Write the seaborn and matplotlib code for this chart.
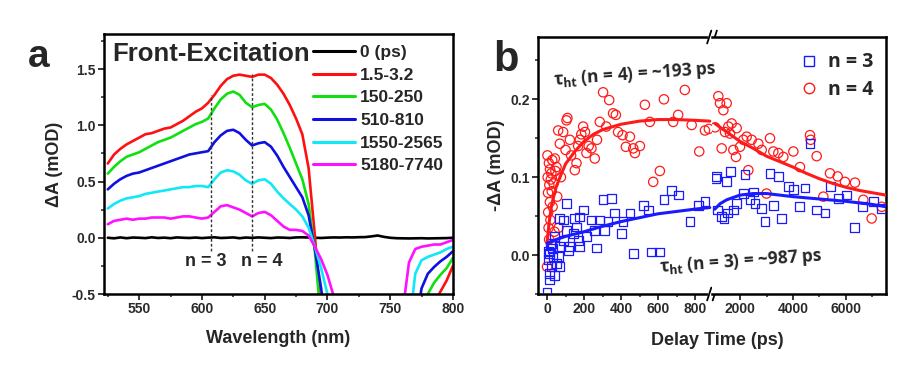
"""
Transient absorption spectra (a) and hole-transfer kinetics (b)
"""

import matplotlib
matplotlib.use("Agg")
import matplotlib.pyplot as plt
import seaborn as sns
import numpy as np
import pandas as pd
from matplotlib.lines import Line2D
from matplotlib.ticker import MultipleLocator

# ---------------- panel a: spectra ----------------
wavelength = list(range(525, 801, 5))  # 525 ... 800 nm

delay_labels = ['0 (ps)', '1.5-3.2', '150-250', '510-810', '1550-2565', '5180-7740']
delay_colors = ['#000000', '#ff1010', '#10e010', '#1010e0', '#10e8f8', '#ff10ff']

spec_0 = [0.0, -0.005, 0.003, -0.004, 0.002, 0.0, -0.003, 0.004, -0.002, 0.001,
          -0.004, 0.003, 0.0, -0.002, 0.002, -0.003, 0.001, 0.004, -0.002, 0.0,
          0.003, -0.004, 0.002, -0.001, 0.003, 0.0, -0.003, 0.002, 0.001, -0.002,
          0.003, 0.004, 0.002, 0.0, -0.002, 0.001, 0.003, 0.002, 0.004, 0.003,
          0.005, 0.006, 0.012, 0.02, 0.008, 0.0, -0.004, -0.005, -0.006, -0.005,
          -0.004, -0.006, -0.005, -0.004, -0.003, 0.0]
spec_1 = [0.66, 0.74, 0.79, 0.83, 0.86, 0.89, 0.92, 0.93, 0.95, 0.97,
          0.98, 1.01, 1.04, 1.08, 1.12, 1.15, 1.20, 1.27, 1.35, 1.41,
          1.44, 1.45, 1.44, 1.43, 1.45, 1.45, 1.42, 1.36, 1.28, 1.18,
          1.06, 0.92, 0.62, 0.02, -0.70, -1.2, -1.5, -1.5, -1.5, -1.5,
          -1.5, -1.5, -1.5, -1.5, -1.5, -1.5, -1.5, -1.5, -1.5, -1.5,
          -1.5, -0.80, -0.58, -0.48, -0.38, -0.25]
spec_2 = [0.57, 0.63, 0.68, 0.72, 0.74, 0.76, 0.79, 0.82, 0.85, 0.87,
          0.89, 0.92, 0.95, 0.98, 1.01, 1.03, 1.06, 1.15, 1.23, 1.28,
          1.30, 1.27, 1.20, 1.16, 1.18, 1.19, 1.14, 1.05, 0.93, 0.80,
          0.66, 0.52, 0.30, -0.12, -0.75, -1.2, -1.5, -1.5, -1.5, -1.5,
          -1.5, -1.5, -1.5, -1.5, -1.5, -1.5, -1.5, -1.5, -1.5, -1.5,
          -0.80, -0.50, -0.40, -0.33, -0.27, -0.18]
spec_3 = [0.43, 0.48, 0.52, 0.55, 0.57, 0.58, 0.60, 0.62, 0.64, 0.66,
          0.68, 0.70, 0.72, 0.74, 0.75, 0.76, 0.77, 0.85, 0.91, 0.95,
          0.96, 0.93, 0.87, 0.82, 0.84, 0.85, 0.81, 0.73, 0.63, 0.54,
          0.45, 0.36, 0.20, -0.10, -0.45, -0.9, -1.5, -1.5, -1.5, -1.5,
          -1.5, -1.5, -1.5, -1.5, -1.5, -1.5, -1.5, -1.5, -1.5, -0.80,
          -0.45, -0.32, -0.26, -0.21, -0.17, -0.12]
spec_4 = [0.26, 0.30, 0.33, 0.35, 0.36, 0.37, 0.39, 0.40, 0.41, 0.42,
          0.43, 0.44, 0.45, 0.45, 0.46, 0.46, 0.45, 0.52, 0.58, 0.60,
          0.59, 0.56, 0.51, 0.48, 0.51, 0.52, 0.48, 0.41, 0.35, 0.30,
          0.25, 0.19, 0.09, -0.08, -0.27, -0.50, -0.9, -1.5, -1.5, -1.5,
          -1.5, -1.5, -1.5, -1.5, -1.5, -1.5, -1.5, -1.5, -0.80, -0.32,
          -0.20, -0.17, -0.15, -0.13, -0.10, -0.08]
spec_5 = [0.12, 0.15, 0.16, 0.17, 0.16, 0.17, 0.17, 0.18, 0.18, 0.18,
          0.17, 0.18, 0.19, 0.19, 0.18, 0.17, 0.18, 0.23, 0.28, 0.29,
          0.27, 0.25, 0.22, 0.19, 0.22, 0.23, 0.20, 0.15, 0.10, 0.07,
          0.07, 0.06, 0.02, -0.08, -0.19, -0.33, -0.52, -0.9, -1.5, -1.5,
          -1.5, -1.5, -1.5, -1.5, -1.5, -1.5, -1.5, -0.65, -0.22, -0.10,
          -0.08, -0.07, -0.06, -0.06, -0.04, -0.02]
spectra = [spec_0, spec_1, spec_2, spec_3, spec_4, spec_5]

# exciton band markers (n = 3, n = 4)
band_wl = [607, 640]
band_top = [1.27, 1.46]
band_labels = ['n = 3', 'n = 4']
band_label_wl = [603, 648]

# ---------------- panel b: kinetics ----------------
n4_early_t = [0, 2, 3, 5, 6, 8, 10, 11, 12, 15,
              16, 18, 20, 23, 25, 28, 30, 35, 40, 42,
              45, 51, 55, 60, 62, 69, 75, 87, 100, 105,
              110, 123, 130, 150, 159, 168, 177, 185, 195, 205,
              213, 225, 240, 258, 270, 285, 303, 320, 336, 357,
              372, 384, 408, 426, 448, 466, 475, 502, 529, 556,
              574, 610, 632, 682, 709, 745, 782, 823, 854, 875]
n4_early_y = [-0.015, 0.128, 0.10, 0.08, 0.055, 0.035, 0.118, 0.02, 0.09, 0.068,
              0.11, 0.045, 0.097, 0.105, 0.082, 0.122, 0.062, 0.092, 0.03, 0.124,
              0.108, 0.113, 0.075, 0.16, 0.035, 0.143, 0.10, 0.158, 0.135, 0.173,
              0.176, 0.148, 0.128, 0.109, 0.118, 0.14, 0.148, 0.155, 0.165, 0.158,
              0.131, 0.14, 0.137, 0.124, 0.148, 0.171, 0.209, 0.165, 0.199, 0.182,
              0.18, 0.158, 0.154, 0.139, 0.152, 0.137, 0.131, 0.14, 0.193, 0.171,
              0.094, 0.108, 0.20, 0.171, 0.18, 0.212, 0.167, 0.133, 0.16, 0.162]
n4_late_t = [1060, 1182, 1245, 1308, 1371, 1434, 1497, 1560, 1623, 1686,
             1748, 1849, 1874, 2000, 2126, 2252, 2314, 2440, 2692, 2818,
             3000, 3132, 3258, 3447, 3635, 4013, 4264, 4641, 4667, 4893,
             5145, 5396, 5686, 5962, 6340, 6654, 6969, 7346]
n4_late_y = [0.164, 0.204, 0.195, 0.137, 0.186, 0.158, 0.195, 0.165, 0.156, 0.169,
             0.135, 0.126, 0.163, 0.139, 0.148, 0.152, 0.109, 0.148, 0.143, 0.135,
             0.079, 0.15, 0.133, 0.131, 0.126, 0.133, 0.113, 0.154, 0.148, 0.127,
             0.075, 0.105, 0.101, 0.094, 0.093, 0.071, 0.047, 0.062]

n3_early_t = [0, 5, 8, 11, 14, 14, 18, 23, 23, 28,
              32, 42, 42, 51, 60, 69, 69, 69, 87, 87,
              105, 105, 114, 123, 141, 150, 159, 168, 177, 177,
              195, 213, 240, 258, 267, 285, 303, 312, 330, 348,
              366, 403, 411, 448, 466, 520, 547, 565, 610, 632,
              673, 709, 773, 818, 854]
n3_early_y = [-0.048, -0.006, 0.005, -0.032, -0.024, 0.002, 0.012, -0.015, 0.015, 0.008,
              -0.002, -0.026, 0.024, -0.011, -0.002, -0.015, 0.011, 0.047, 0.019, 0.045,
              0.032, 0.066, 0.006, 0.011, 0.028, 0.047, 0.036, 0.019, 0.011, 0.049,
              0.058, 0.024, 0.045, 0.032, 0.009, 0.045, 0.071, 0.032, 0.043, 0.073,
              0.054, 0.028, 0.043, 0.054, 0.002, 0.064, 0.058, 0.004, 0.004, 0.071,
              0.083, 0.077, 0.043, 0.064, 0.069]
n3_late_t = [1080, 1119, 1150, 1308, 1396, 1497, 1520, 1648, 1748, 1874,
             2126, 2189, 2377, 2503, 2566, 2818, 2943, 3132, 3258, 3447,
             3572, 3824, 4013, 4239, 4453, 4641, 4893, 5208, 5421, 5711,
             6025, 6315, 6629, 7031, 7346]
n3_late_y = [0.098, 0.101, 0.058, 0.05, 0.047, 0.094, 0.054, 0.107, 0.058, 0.066,
             0.079, 0.103, 0.071, 0.081, 0.066, 0.06, 0.043, 0.105, 0.064, 0.101,
             0.047, 0.088, 0.084, 0.062, 0.086, 0.143, 0.058, 0.054, 0.088, 0.073,
             0.077, 0.035, 0.062, 0.069, 0.06]

# fitted curves
fit4_early_t = [0, 10, 25, 50, 75, 100, 150, 200, 250, 300, 400, 500, 600, 700, 800, 880]
fit4_early_y = [0.015, 0.04, 0.065, 0.088, 0.103, 0.117, 0.133, 0.146, 0.155, 0.161,
                0.168, 0.172, 0.174, 0.174, 0.173, 0.172]
fit4_late_t = [1050, 1500, 2000, 2500, 3000, 3500, 4000, 4500, 5000, 5500, 6000, 6500, 7000, 7510]
fit4_late_y = [0.169, 0.158, 0.146, 0.137, 0.127, 0.120, 0.113, 0.105, 0.098, 0.092,
               0.087, 0.083, 0.080, 0.077]
fit3_early_t = [0, 50, 100, 200, 300, 400, 500, 600, 700, 800, 880]
fit3_early_y = [0.015, 0.02, 0.024, 0.03, 0.037, 0.043, 0.048, 0.053, 0.056, 0.059, 0.061]
fit3_late_t = [1050, 1250, 1500, 2000, 2500, 3000, 3500, 4000, 5000, 6000, 7000, 7510]
fit3_late_y = [0.059, 0.066, 0.071, 0.077, 0.079, 0.079, 0.077, 0.075, 0.072, 0.069,
               0.065, 0.062]

RED = '#ff1a1a'
BLUE = '#1a1aff'

# ---------------- style ----------------
sns.set_style('ticks')
plt.rcParams['font.family'] = ['Liberation Sans', 'DejaVu Sans']
plt.rcParams['font.weight'] = 'bold'
plt.rcParams['axes.labelweight'] = 'bold'
plt.rcParams['mathtext.default'] = 'regular'
plt.rcParams['axes.linewidth'] = 1.8
plt.rcParams['axes.edgecolor'] = 'black'

fig = plt.figure(figsize=(9.23, 3.65), dpi=100)
ax_a = fig.add_axes([0.1127, 0.1945, 0.378, 0.712])
ax_b1 = fig.add_axes([0.5829, 0.1945, 0.1885, 0.7041])
ax_b2 = fig.add_axes([0.7714, 0.1945, 0.1885, 0.7041])


def style_ticks(ax):
    ax.tick_params(which='major', direction='out', length=4, width=1.3,
                   labelsize=10, labelcolor='#2a2a2a', pad=2)
    ax.tick_params(which='minor', direction='out', length=2.5, width=1.1)


# ---------------- panel a ----------------
df = pd.DataFrame({
    'wl': wavelength * len(spectra),
    'dA': sum(spectra, []),
    'delay': [lab for lab in delay_labels for _ in wavelength],
})
sns.lineplot(data=df, x='wl', y='dA', hue='delay', hue_order=delay_labels,
             palette=delay_colors, linewidth=1.9, ax=ax_a, legend=False)

for w, top in zip(band_wl, band_top):
    ax_a.vlines(w, -0.12, top, colors='#333333', linestyles=(0, (2, 1.5)), linewidth=1.0)
for w, lab in zip(band_label_wl, band_labels):
    ax_a.text(w, -0.215, lab, ha='center', va='center', fontsize=13, fontweight='bold')

ax_a.set_xlim(522, 800)
ax_a.set_ylim(-0.5, 1.81)
ax_a.xaxis.set_major_locator(MultipleLocator(50))
ax_a.xaxis.set_minor_locator(MultipleLocator(25))
ax_a.yaxis.set_major_locator(MultipleLocator(0.5))
ax_a.yaxis.set_minor_locator(MultipleLocator(0.25))
ax_a.set_yticks([-0.5, 0.0, 0.5, 1.0, 1.5])
ax_a.set_yticklabels(['-0.5', '0.0', '0.5', '1.0', '1.5'])
style_ticks(ax_a)
ax_a.set_xlabel('Wavelength (nm)', fontsize=13, labelpad=10)
ax_a.set_ylabel('ΔA (mOD)', fontsize=13, labelpad=6)

ax_a.text(0.025, 0.922, 'Front-Excitation', transform=ax_a.transAxes,
          fontsize=18.5, fontweight='bold', va='center', ha='left')
handles = [Line2D([], [], color=c, lw=2.2) for c in delay_colors]
ax_a.legend(handles, delay_labels, loc='upper left', bbox_to_anchor=(0.6, 0.958),
            frameon=False, handlelength=2.4, handletextpad=0.3,
            labelspacing=0.43, borderpad=0, borderaxespad=0,
            prop={'weight': 'bold', 'size': 12.5})

# ---------------- panel b ----------------
sns.scatterplot(x=n4_early_t, y=n4_early_y, marker='o', s=45, facecolor='none',
                edgecolor=RED, linewidth=0.9, ax=ax_b1, zorder=3)
sns.scatterplot(x=n3_early_t, y=n3_early_y, marker='s', s=40, facecolor='none',
                edgecolor=BLUE, linewidth=0.9, ax=ax_b1, zorder=3)
sns.scatterplot(x=n4_late_t, y=n4_late_y, marker='o', s=45, facecolor='none',
                edgecolor=RED, linewidth=0.9, ax=ax_b2, zorder=3)
sns.scatterplot(x=n3_late_t, y=n3_late_y, marker='s', s=40, facecolor='none',
                edgecolor=BLUE, linewidth=0.9, ax=ax_b2, zorder=3)
sns.lineplot(x=fit4_early_t, y=fit4_early_y, color=RED, lw=2.2, ax=ax_b1, zorder=4)
sns.lineplot(x=fit3_early_t, y=fit3_early_y, color=BLUE, lw=2.2, ax=ax_b1, zorder=4)
sns.lineplot(x=fit4_late_t, y=fit4_late_y, color=RED, lw=2.2, ax=ax_b2, zorder=4)
sns.lineplot(x=fit3_late_t, y=fit3_late_y, color=BLUE, lw=2.2, ax=ax_b2, zorder=4)

ax_b1.set_xlim(-49, 892)
ax_b2.set_xlim(943, 7510)
for ax in (ax_b1, ax_b2):
    ax.set_ylim(-0.05, 0.28)
    style_ticks(ax)
ax_b1.xaxis.set_major_locator(MultipleLocator(200))
ax_b1.xaxis.set_minor_locator(MultipleLocator(100))
ax_b1.yaxis.set_major_locator(MultipleLocator(0.1))
ax_b1.yaxis.set_minor_locator(MultipleLocator(0.05))
ax_b1.set_yticks([0.0, 0.1, 0.2])
ax_b1.set_yticklabels(['0.0', '0.1', '0.2'])
ax_b2.xaxis.set_major_locator(MultipleLocator(2000))
ax_b2.xaxis.set_minor_locator(MultipleLocator(1000))
ax_b2.set_xticks([2000, 4000, 6000])
ax_b2.set_xticklabels(['2000', '4000', '6000'])
ax_b2.tick_params(axis='y', which='both', left=False, labelleft=False)
ax_b1.spines['right'].set_visible(False)
ax_b2.spines['left'].set_visible(False)

ax_b1.set_ylabel('-ΔA (mOD)', fontsize=13, labelpad=4)
ax_b1.set_xlabel('')
ax_b2.set_xlabel('')
fig.text(0.777, 0.068, 'Delay Time (ps)', ha='center', va='center',
         fontsize=13, fontweight='bold')

# axis break marks
for yb in (0, 1):
    ax_b1.plot([0.985, 1.015], [yb, yb], transform=ax_b1.transAxes, color='white',
               lw=2.5, clip_on=False, zorder=10)
    for dx in (-0.016, 0.016):
        ax_b1.plot([1 + dx - 0.012, 1 + dx + 0.012], [yb - 0.025, yb + 0.025],
                   transform=ax_b1.transAxes, color='black', lw=1.3,
                   clip_on=False, zorder=11)

# annotations
fig.text(0.688, 0.795, 'τ$_{ht}$ (n = 4) = ~193 ps', ha='center', va='center',
         rotation=4, fontsize=12.5, fontweight='bold', family=['Open Sans', 'DejaVu Sans'])
fig.text(0.803, 0.283, 'τ$_{ht}$ (n = 3) = ~987 ps', ha='center', va='center',
         rotation=4, fontsize=12.5, fontweight='bold', family=['Open Sans', 'DejaVu Sans'])

leg_handles = [Line2D([], [], marker='s', ls='none', mfc='none', mec=BLUE, ms=7, mew=1.0),
               Line2D([], [], marker='o', ls='none', mfc='none', mec=RED, ms=7.5, mew=1.0)]
ax_b2.legend(leg_handles, ['n = 3', 'n = 4'], loc='upper left',
             bbox_to_anchor=(0.5, 0.94), frameon=False, handlelength=1.0,
             handletextpad=0.5, labelspacing=0.4, borderpad=0, borderaxespad=0,
             prop={'family': ['Open Sans', 'DejaVu Sans'], 'weight': 'bold', 'size': 14})

# panel letters
fig.text(0.042, 0.845, 'a', fontsize=28, fontweight='bold', ha='center', va='center')
fig.text(0.548, 0.835, 'b', fontsize=30, fontweight='bold', ha='center', va='center')

fig.savefig('out.png', dpi=100)
